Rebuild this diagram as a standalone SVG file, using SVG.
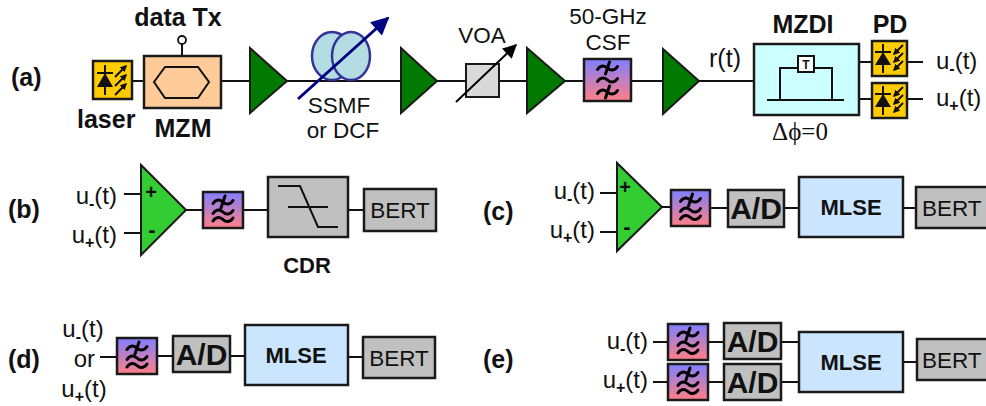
<svg xmlns="http://www.w3.org/2000/svg" width="986" height="406" viewBox="0 0 986 406">
<defs>
<style>
.ln{stroke:#111;stroke-width:2;fill:none}
.amp{fill:#007A00;stroke:#1a1a1a;stroke-width:2}
.opamp{fill:#33CC33;stroke:#1a1a1a;stroke-width:2}
.gray{fill:#C0C0C0;stroke:#1a1a1a;stroke-width:2.5}
.mlse{fill:#CCE5FF;stroke:#1a1a1a;stroke-width:2.5}
.flt{fill:url(#fg);stroke:#1a1a1a;stroke-width:2.5}
.tl{fill:none;stroke:#000;stroke-width:3;stroke-linecap:round}
.ic{fill:#FFCC00;stroke:#1a1a1a;stroke-width:2.5}
.dk{stroke:#111;stroke-width:2;fill:none}
text{font-family:"Liberation Sans",Arial,sans-serif;fill:#111}
.lbl{font-size:25px;font-weight:bold}
.r{font-size:22.5px}
.sig{font-size:24px}
.sub{font-size:16px;font-weight:bold}
.big{font-size:30px;font-weight:bold}
.ml{font-size:22px;font-weight:bold}
.mid{text-anchor:middle}
</style>
<linearGradient id="fg" x1="0" y1="0" x2="0" y2="1">
<stop offset="0" stop-color="#7F7FFF"/>
<stop offset="1" stop-color="#FF7F86"/>
</linearGradient>
<marker id="navyHead" viewBox="0 0 10 10" refX="9" refY="5" markerUnits="userSpaceOnUse" markerWidth="20" markerHeight="18" orient="auto">
<path d="M0,0 L10,5 L0,10 Z" fill="#000080"/>
</marker>
<marker id="blackHead" viewBox="0 0 10 10" refX="9" refY="5" markerUnits="userSpaceOnUse" markerWidth="16" markerHeight="14" orient="auto">
<path d="M0,0 L10,5 L0,10 Z" fill="#000"/>
</marker>
<marker id="tinyHead" viewBox="0 0 10 10" refX="8" refY="5" markerUnits="userSpaceOnUse" markerWidth="7" markerHeight="7" orient="auto">
<path d="M0,0 L10,5 L0,10 Z" fill="#111"/>
</marker>
<path id="td" class="tl" d="M-10,1.5 C-7,-3 -3,-3 0,0 S7,3 10,-1.5"/>
<g id="xtd"><use href="#td"/><path class="tl" d="M2,-6 L-2,6"/></g>
<!-- low-pass filter glyph -->
<g id="lp"><use href="#xtd" y="-8"/><use href="#td" y="2"/><use href="#td" y="9.5"/></g>
<!-- laser diode glyph -->
<g id="laserIcon">
<rect class="ic" x="0" y="0" width="39" height="38"/>
<line class="dk" x1="12" y1="4" x2="12" y2="34"/>
<line class="dk" x1="4" y1="12" x2="20" y2="12"/>
<polygon points="12,12 4,26 20,26" fill="#111"/>
<line class="dk" x1="22" y1="16" x2="33" y2="5" marker-end="url(#tinyHead)"/>
<line class="dk" x1="22" y1="25" x2="33" y2="14" marker-end="url(#tinyHead)"/>
<line class="dk" x1="22" y1="34" x2="33" y2="23" marker-end="url(#tinyHead)"/>
</g>
<!-- photodiode glyph -->
<g id="pdIcon">
<rect class="ic" x="0" y="0" width="35" height="35"/>
<line class="dk" x1="11" y1="3" x2="11" y2="32"/>
<line class="dk" x1="3" y1="11" x2="19" y2="11"/>
<polygon points="11,11 3,24 19,24" fill="#111"/>
<line class="dk" x1="31" y1="4" x2="22" y2="13" marker-end="url(#tinyHead)"/>
<line class="dk" x1="31" y1="12" x2="22" y2="21" marker-end="url(#tinyHead)"/>
<line class="dk" x1="31" y1="20" x2="22" y2="29" marker-end="url(#tinyHead)"/>
</g>
</defs>

<rect width="986" height="406" fill="#fff"/>

<!-- connectors -->
<g id="connectors" class="ln">
<!-- (a) -->
<line x1="132" y1="81" x2="144" y2="81"/>
<line x1="182" y1="44" x2="182" y2="56"/>
<line x1="221" y1="81" x2="250" y2="81"/>
<line x1="287" y1="81" x2="401" y2="81"/>
<line x1="437" y1="81" x2="466" y2="81"/>
<line x1="499" y1="81" x2="527" y2="81"/>
<line x1="565" y1="81" x2="584" y2="81"/>
<line x1="631" y1="81" x2="663" y2="81"/>
<line x1="699" y1="81" x2="754" y2="81"/>
<line x1="859" y1="62" x2="872" y2="62"/>
<line x1="859" y1="99" x2="872" y2="99"/>
<line x1="907" y1="62" x2="923" y2="62"/>
<line x1="907" y1="99" x2="923" y2="99"/>
<!-- (b) -->
<line x1="124" y1="194" x2="141" y2="194"/>
<line x1="124" y1="233" x2="141" y2="233"/>
<line x1="186" y1="210" x2="203" y2="210"/>
<line x1="243" y1="210" x2="268" y2="210"/>
<line x1="348" y1="210" x2="364" y2="210"/>
<!-- (c) -->
<line x1="600" y1="193" x2="617" y2="193"/>
<line x1="600" y1="232" x2="617" y2="232"/>
<line x1="662" y1="207" x2="671" y2="207"/>
<line x1="710" y1="208" x2="728" y2="208"/>
<line x1="784" y1="208" x2="799" y2="208"/>
<line x1="903" y1="208" x2="916" y2="208"/>
<!-- (d) -->
<line x1="100" y1="357" x2="117" y2="357"/>
<line x1="157" y1="356" x2="173" y2="356"/>
<line x1="230" y1="356" x2="245" y2="356"/>
<line x1="348" y1="357" x2="363" y2="357"/>
<!-- (e) -->
<line x1="653" y1="342" x2="668" y2="342"/>
<line x1="708" y1="342" x2="724" y2="342"/>
<line x1="781" y1="342" x2="799" y2="342"/>
<line x1="653" y1="382" x2="668" y2="382"/>
<line x1="708" y1="382" x2="724" y2="382"/>
<line x1="781" y1="382" x2="799" y2="382"/>
<line x1="903" y1="362" x2="917" y2="362"/>
</g>

<!-- (a) transmission link -->
<text class="lbl" x="11" y="86">(a)</text>

<g id="laser">
<use href="#laserIcon" x="93" y="61"/>
<text class="lbl" x="77" y="128">laser</text>
</g>

<g id="mzm">
<rect x="144" y="56" width="77" height="52" fill="#FFCC99" stroke="#1a1a1a" stroke-width="2.5"/>
<polygon points="154,82 165,67 198,67 209,82 198,98 165,98" fill="none" stroke="#111" stroke-width="2"/>
<circle cx="182" cy="40" r="4" fill="#fff" stroke="#111" stroke-width="1.8"/>
<text class="lbl mid" x="178" y="26">data Tx</text>
<text class="lbl mid" x="183" y="137">MZM</text>
</g>

<g id="amp1"><polygon class="amp" points="250,48 250,113 287,81"/></g>

<g id="fiber">
<ellipse cx="332" cy="56" rx="20" ry="24" fill="#B3DDE3" stroke="#333399" stroke-width="2.5"/>
<ellipse cx="351" cy="56" rx="19" ry="24" fill="#B3DDE3" stroke="#333399" stroke-width="2.5"/>
<line x1="298" y1="99" x2="388" y2="18" stroke="#000080" stroke-width="3" marker-end="url(#navyHead)"/>
<text class="r mid" x="339" y="113">SSMF</text>
<text class="r mid" x="343" y="138">or DCF</text>
</g>

<g id="amp2"><polygon class="amp" points="401,48 401,113 437,81"/></g>

<g id="voa">
<rect x="466" y="64" width="33" height="33" fill="#D9D9D9" stroke="#1a1a1a" stroke-width="2"/>
<line x1="456" y1="102" x2="516" y2="45" stroke="#000" stroke-width="2" marker-end="url(#blackHead)"/>
<text class="r mid" x="482" y="43">VOA</text>
</g>

<g id="amp3"><polygon class="amp" points="527,48 527,113 565,81"/></g>

<g id="csf">
<rect class="flt" x="584" y="59" width="47" height="42"/>
<use href="#xtd" x="607.5" y="68"/>
<use href="#td" x="607.5" y="80"/>
<use href="#xtd" x="607.5" y="92"/>
<text class="r mid" x="608" y="24">50-GHz</text>
<text class="r mid" x="608" y="50">CSF</text>
</g>

<g id="amp4"><polygon class="amp" points="663,49 663,114 699,81"/></g>
<text class="mid" x="725" y="67" font-size="25">r(t)</text>

<g id="mzdi">
<rect x="754" y="44" width="105" height="71" fill="#CCFFFF" stroke="#1a1a1a" stroke-width="2.5"/>
<polyline class="dk" points="780,100 780,68 798,68"/>
<polyline class="dk" points="814,68 832,68 832,100"/>
<line class="dk" x1="767" y1="100" x2="844" y2="100"/>
<rect x="798" y="56" width="16" height="16" fill="#fff" stroke="#111" stroke-width="2"/>
<text x="806" y="69" font-size="12" font-weight="bold" class="mid">T</text>
<text class="lbl mid" x="803" y="33">MZDI</text>
<text x="800" y="140" class="mid" style="font-family:'Liberation Serif','Times New Roman',serif;font-size:25px">Δϕ=0</text>
</g>

<g id="pd">
<use href="#pdIcon" x="872" y="41"/>
<use href="#pdIcon" x="872" y="83"/>
<text class="lbl mid" x="890" y="33">PD</text>
<text class="sig" x="936" y="69">u<tspan class="sub" dy="5">-</tspan><tspan dy="-5">(t)</tspan></text>
<text class="sig" x="936" y="106">u<tspan class="sub" dy="5">+</tspan><tspan dy="-5">(t)</tspan></text>
</g>

<!-- (b) balanced receiver with CDR -->
<text class="lbl" x="8" y="218">(b)</text>
<g id="b-inputs">
<text class="sig" x="117" y="204" text-anchor="end">u<tspan class="sub" dy="5">-</tspan><tspan dy="-5">(t)</tspan></text>
<text class="sig" x="117" y="243" text-anchor="end">u<tspan class="sub" dy="5">+</tspan><tspan dy="-5">(t)</tspan></text>
</g>
<g id="b-opamp">
<polygon class="opamp" points="141,165 141,255 186,210"/>
<text x="151" y="199" class="mid" font-size="20" font-weight="bold">+</text>
<text x="152" y="237" class="mid" font-size="22" font-weight="bold">-</text>
</g>
<g id="b-filter"><rect class="flt" x="203" y="192" width="40" height="36"/><use href="#lp" x="223" y="210"/></g>
<g id="b-cdr">
<rect class="gray" x="268" y="177" width="80" height="60"/>
<polyline class="dk" points="278,186 300,186 318,227 338,227"/>
<line class="dk" x1="288" y1="207" x2="328" y2="207"/>
<text class="ml mid" x="307" y="273">CDR</text>
</g>
<g id="b-bert"><rect class="gray" x="364" y="189" width="72" height="42"/><text class="r mid" x="400" y="218">BERT</text></g>

<!-- (c) balanced receiver with MLSE -->
<text class="lbl" x="483" y="220">(c)</text>
<g id="c-inputs">
<text class="sig" x="595" y="199" text-anchor="end">u<tspan class="sub" dy="5">-</tspan><tspan dy="-5">(t)</tspan></text>
<text class="sig" x="595" y="238" text-anchor="end">u<tspan class="sub" dy="5">+</tspan><tspan dy="-5">(t)</tspan></text>
</g>
<g id="c-opamp">
<polygon class="opamp" points="617,163 617,251 662,207"/>
<text x="625" y="194" class="mid" font-size="20" font-weight="bold">+</text>
<text x="627" y="234" class="mid" font-size="22" font-weight="bold">-</text>
</g>
<g id="c-filter"><rect class="flt" x="671" y="190" width="39" height="36"/><use href="#lp" x="690.5" y="208"/></g>
<g id="c-adc"><rect class="gray" x="728" y="190" width="56" height="37"/><text class="big mid" x="756" y="219">A/D</text></g>
<g id="c-mlse"><rect class="mlse" x="799" y="177" width="104" height="60"/><text class="ml mid" x="851" y="215">MLSE</text></g>
<g id="c-bert"><rect class="gray" x="916" y="187" width="74" height="41"/><text class="r" x="922" y="216">BERT</text></g>

<!-- (d) single-ended receiver with MLSE -->
<text class="lbl" x="8" y="368">(d)</text>
<g id="d-inputs">
<text class="sig mid" x="83" y="337">u<tspan class="sub" dy="5">-</tspan><tspan dy="-5">(t)</tspan></text>
<text class="sig" x="95" y="367" text-anchor="end">or</text>
<text class="sig mid" x="84" y="397">u<tspan class="sub" dy="5">+</tspan><tspan dy="-5">(t)</tspan></text>
</g>
<g id="d-filter"><rect class="flt" x="117" y="338" width="40" height="36"/><use href="#lp" x="137" y="356"/></g>
<g id="d-adc"><rect class="gray" x="173" y="336" width="57" height="36"/><text class="big mid" x="201.5" y="365">A/D</text></g>
<g id="d-mlse"><rect class="mlse" x="245" y="325" width="103" height="60"/><text class="ml mid" x="296" y="363">MLSE</text></g>
<g id="d-bert"><rect class="gray" x="363" y="337" width="72" height="41"/><text class="r mid" x="399" y="366">BERT</text></g>

<!-- (e) dual-branch receiver with MLSE -->
<text class="lbl" x="483" y="368">(e)</text>
<g id="e-inputs">
<text class="sig" x="648" y="349" text-anchor="end">u<tspan class="sub" dy="5">-</tspan><tspan dy="-5">(t)</tspan></text>
<text class="sig" x="648" y="388" text-anchor="end">u<tspan class="sub" dy="5">+</tspan><tspan dy="-5">(t)</tspan></text>
</g>
<g id="e-filter1"><rect class="flt" x="668" y="324" width="40" height="36"/><use href="#lp" x="688" y="342"/></g>
<g id="e-filter2"><rect class="flt" x="668" y="364" width="40" height="36"/><use href="#lp" x="688" y="382"/></g>
<g id="e-adc1"><rect class="gray" x="724" y="323" width="57" height="36"/><text class="big mid" x="752.5" y="352">A/D</text></g>
<g id="e-adc2"><rect class="gray" x="724" y="364" width="57" height="36"/><text class="big mid" x="752.5" y="393">A/D</text></g>
<g id="e-mlse"><rect class="mlse" x="799" y="332" width="104" height="60"/><text class="ml mid" x="851" y="370">MLSE</text></g>
<g id="e-bert"><rect class="gray" x="917" y="339" width="73" height="41"/><text class="r" x="922" y="368">BERT</text></g>
</svg>
